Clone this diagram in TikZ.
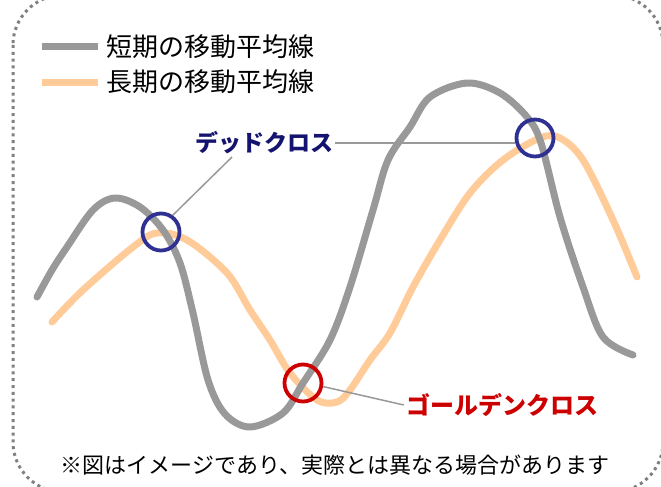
\documentclass[tikz,border=0pt]{standalone}
\usepackage{fontspec}
\setmainfont{Noto Sans CJK JP}
\usetikzlibrary{positioning,calc}
\definecolor{shortma}{HTML}{999999}
\definecolor{longma}{HTML}{FFCC99}
\definecolor{deadblue}{HTML}{2E3192}
\definecolor{deadtext}{HTML}{141470}
\definecolor{goldred}{HTML}{CC0000}
\tikzset{
  bar/.style={rectangle, inner sep=0pt, minimum width=56pt, minimum height=7pt},
  lg/.style={inner sep=1pt, font=\fontsize{26}{26}\selectfont},
  cr/.style={circle, inner sep=0pt, minimum size=37pt, line width=3.8pt},
  lb/.style={inner sep=2pt, font=\fontsize{23}{23}\selectfont\bfseries},
  ma/.style={line width=7pt, line cap=round, line join=round},
  lead/.style={draw=shortma, line width=1.5pt},
  node distance=7pt
}
\begin{document}
\begin{tikzpicture}[x=1pt, y=-1pt]
\useasboundingbox (0,0) rectangle (661,487);
% dotted frame
\draw[color=black!50, line width=3pt, dash pattern=on 3pt off 3.8pt, rounded corners=50pt]
  (13,-5) rectangle (663,492);
% legend
\node[bar, fill=shortma] (sbar) at (70,47) {};
\node[lg, right=of sbar] (stxt) {短期の移動平均線};
\node[bar, fill=longma] (lbar) at (70,82) {};
\node[lg, right=of lbar] (ltxt) {長期の移動平均線};
% moving averages
\draw[ma, longma] plot[smooth, tension=0.55] coordinates {
  (52,322) (83,290) (133,247) (157,233) (187,240) (227,273) (250,310)
  (270,340) (290,373) (317,400) (337,402) (350,390) (370,360) (390,333)
  (413,287) (440,240) (470,193) (503,160) (540,138) (560,138) (583,160)
  (613,220) (637,277)};
\draw[ma, shortma] plot[smooth, tension=0.55] coordinates {
  (37,297) (52,270) (67,247) (93,210) (115,198) (140,207) (163,230)
  (180,263) (193,313) (208,380) (225,414) (250,427) (283,413) (303,383)
  (330,340) (350,287) (373,210) (388,160) (410,127) (430,97) (467,83)
  (500,93) (527,117) (541,143) (560,217) (583,287) (603,337) (633,355)};
% crosses
\node[cr, draw=deadblue] (dc1) at (161,232) {};
\node[cr, draw=deadblue] (dc2) at (535,138) {};
\node[cr, draw=goldred] (gc) at (303,383) {};
\node[lb, text=deadtext] (ldc) at (264,143) {デッドクロス};
\node[lb, text=goldred, font=\fontsize{24}{24}\selectfont\bfseries] (lgc) at (502,405) {ゴールデンクロス};
\coordinate (dct) at (232,157);
\draw[lead] (dc1.55) -- (dct);
\draw[lead] (ldc.east) -- (dc2.west |- ldc.east);
\draw[lead] (gc.-10) -- (lgc.west);
% note
\node[inner sep=1pt, font=\fontsize{22}{22}\selectfont] (note) at (335,465)
  {※図はイメージであり、実際とは異なる場合があります};
\end{tikzpicture}
\end{document}
